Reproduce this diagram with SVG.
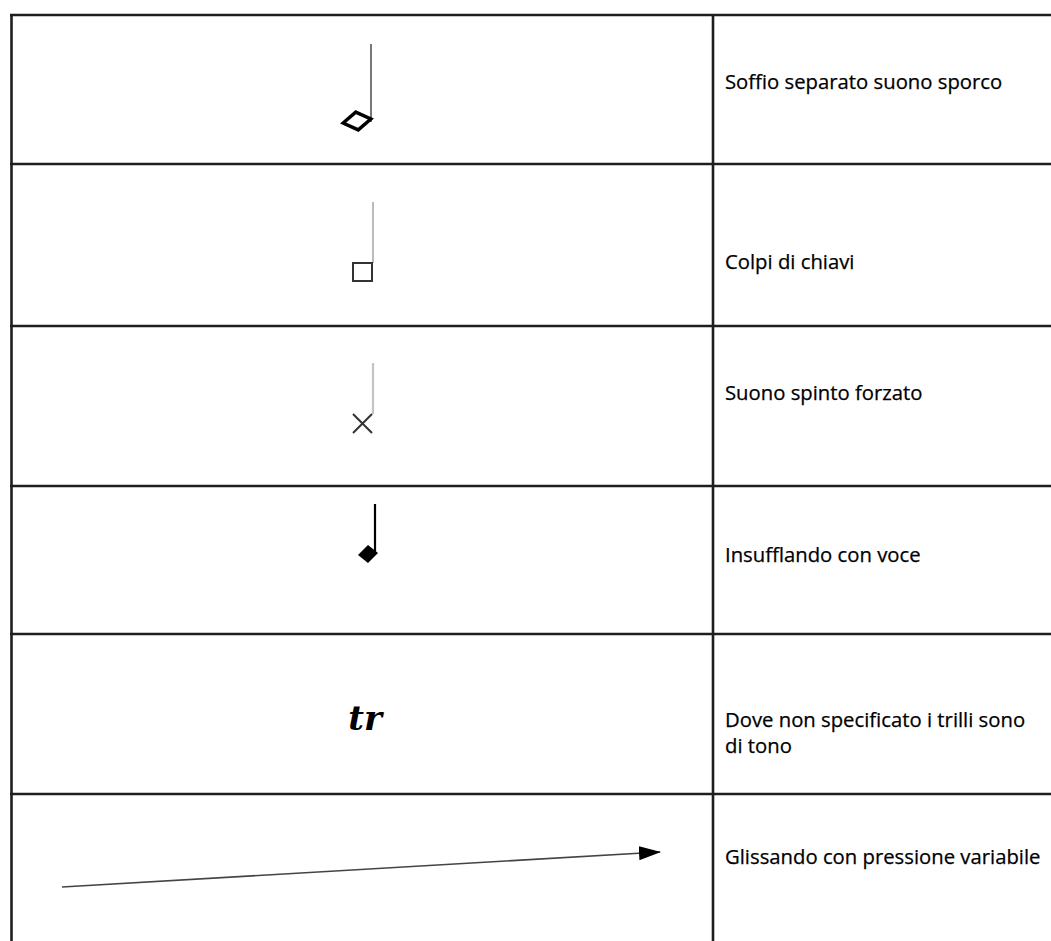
<svg xmlns="http://www.w3.org/2000/svg" width="1051" height="941" viewBox="0 0 1051 941">
<style>
.grid{stroke:#1e1e1e;stroke-width:2.6;fill:none}
.lbl{font-family:"Open Sans","Liberation Sans",sans-serif;font-size:20.3px;fill:#000;stroke:#000;stroke-width:0.25}
</style>
<defs>
<marker id="ah" markerWidth="22" markerHeight="14" refX="21" refY="7" orient="auto" markerUnits="userSpaceOnUse">
<path d="M0,0 L22,7 L0,14 Z" fill="#000"/>
</marker>
</defs>
<rect width="1051" height="941" fill="#fff"/>
<g id="grid">
<line class="grid" x1="11.5" y1="15" x2="11.5" y2="941"/>
<line class="grid" x1="713" y1="15" x2="713" y2="941"/>
<line class="grid" x1="10" y1="15" x2="1051" y2="15"/>
<line class="grid" x1="10" y1="164" x2="1051" y2="164"/>
<line class="grid" x1="10" y1="326" x2="1051" y2="326"/>
<line class="grid" x1="10" y1="486" x2="1051" y2="486"/>
<line class="grid" x1="10" y1="634" x2="1051" y2="634"/>
<line class="grid" x1="10" y1="794" x2="1051" y2="794"/>
</g>
<g id="row1">
<line x1="371" y1="44" x2="371" y2="122" stroke="#777" stroke-width="2"/>
<path d="M343,121 L357,112 L371,121 L357,130 Z" fill="none" stroke="#000" stroke-width="3.4" transform="rotate(-8 357 121)"/>
<text class="lbl" x="725" y="89">Soffio separato suono sporco</text>
</g>
<g id="row2">
<line x1="373" y1="202" x2="373" y2="263" stroke="#bbb" stroke-width="2"/>
<rect x="353" y="263" width="19" height="18" fill="none" stroke="#333" stroke-width="2"/>
<text class="lbl" x="725" y="269">Colpi di chiavi</text>
</g>
<g id="row3">
<line x1="373" y1="363" x2="373" y2="414" stroke="#c4c4c4" stroke-width="2.2"/>
<path d="M353,414 L372,433 M372,414 L353,433" stroke="#333" stroke-width="2"/>
<text class="lbl" x="725" y="400">Suono spinto forzato</text>
</g>
<g id="row4">
<line x1="375" y1="504" x2="375" y2="553" stroke="#000" stroke-width="2.2"/>
<path d="M358,555 L368,545 L378,553 L368,563 Z" fill="#000"/>
<text class="lbl" x="725" y="562">Insufflando con voce</text>
</g>
<g id="row5">
<text x="365" y="730" text-anchor="middle" font-family="'DejaVu Serif','Liberation Serif',serif" font-style="italic" font-weight="bold" font-size="34" fill="#000">tr</text>
<text class="lbl" x="725" y="727">Dove non specificato i trilli sono</text>
<text class="lbl" x="725" y="753">di tono</text>
</g>
<g id="connectors">
<line x1="62" y1="887" x2="660" y2="852" stroke="#444" stroke-width="1.6" marker-end="url(#ah)"/>
</g>
<g id="row6">
<text class="lbl" x="725" y="864">Glissando con pressione variabile</text>
</g>
</svg>
